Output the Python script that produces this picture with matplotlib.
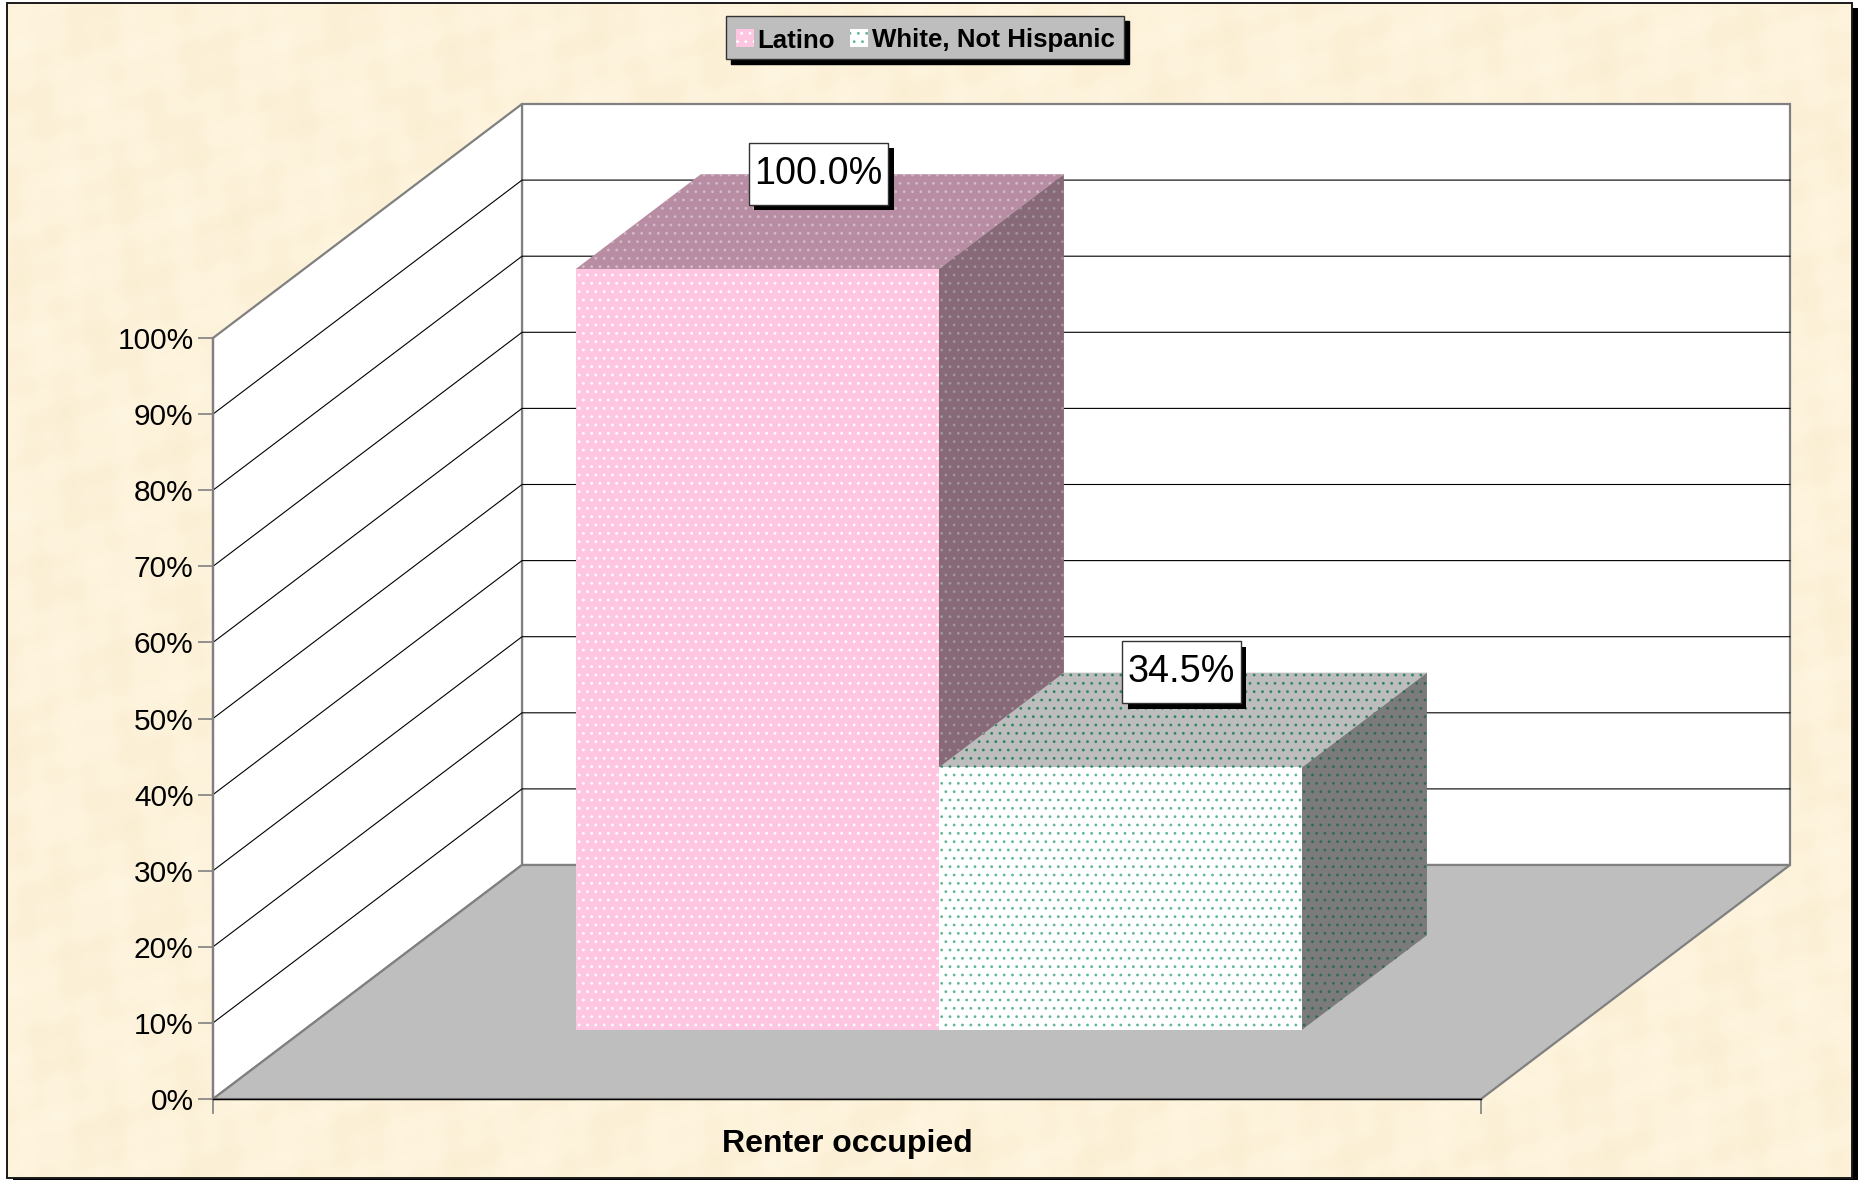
import numpy as np
import matplotlib
matplotlib.use("Agg")
import matplotlib.pyplot as plt
from matplotlib.patches import Polygon, Rectangle, Patch
from matplotlib.path import Path
from matplotlib.ticker import FuncFormatter
from matplotlib import patheffects as pe

plt.rcParams['font.family'] = ['Liberation Sans', 'DejaVu Sans']
plt.rcParams['hatch.linewidth'] = 0.8

# ---- data ----
categories = ["Renter occupied"]
series_names = ["Latino", "White, Not Hispanic"]
series_values = [100.0, 34.5]
value_labels = ["100.0%", "34.5%"]
y_ticks = list(range(0, 101, 10))

# ---- styles ----
face_colors = ["#FFC6E2", "#FFFFFF"]
top_colors = ["#B88CA3", "#BDBDBD"]
side_colors = ["#876977", "#7B7B7B"]
hatch_colors = [("#FFFFFF", "#D0BCC6", "#A3959C"), ("#62B795", "#2F8562", "#2F6B52")]
W, H = 1866, 1180
AX_L, AX_R, AX_T, AX_B = 213, 1481, 338, 1099
DEPTH_PX, DEPTH_PY = 309, 234

fig = plt.figure(figsize=(W / 100, H / 100), dpi=100, facecolor="white")

# background, frame and parchment texture (smooth deterministic blotches)
bg = fig.add_axes([0, 0, 1, 1], zorder=0)
bg.set_xlim(0, W)
bg.set_ylim(H, 0)
bg.axis("off")
bg.add_patch(Rectangle((13, 8), 1845, 1180, fc="black", ec="none"))
yy, xx = np.mgrid[0:H // 4, 0:W // 4]
tile = (np.sin(xx / 5.1 + 1.2 * np.sin(yy / 9.0)) * np.sin(yy / 6.3 + 0.9 * np.sin(xx / 11.0))
        + 0.7 * np.sin(xx / 2.3 + yy / 3.1) * np.cos(yy / 2.7 - xx / 4.3))
tex = np.zeros(tile.shape + (3,))
for i, (c, a) in enumerate(zip((253.0, 242.0, 218.0), (1.5, 2.4, 4.5))):
    tex[..., i] = (c + a * tile) / 255
bg.imshow(tex.clip(0, 1), extent=(7, 1852, 1178, 3), interpolation="bicubic", aspect="auto", zorder=1)
bg.set_xlim(0, W)
bg.set_ylim(H, 0)
bg.add_patch(Rectangle((7, 3), 1845, 1175, fc="none", ec="#1a1a1a", lw=1.4, zorder=2))

# main axes: x = category span 0..1, y = percent
ax = fig.add_axes([AX_L / W, 1 - AX_B / H, (AX_R - AX_L) / W, (AX_B - AX_T) / H], zorder=1)
ax.patch.set_visible(False)
ax.set_xlim(0, 1)
ax.set_ylim(0, 100)
dx_u = DEPTH_PX / (AX_R - AX_L)
dy_u = DEPTH_PY / (AX_B - AX_T) * 100


def proj(x, y, d=0.0):
    """Oblique projection: d is depth from the front (0) to the back wall (1)."""
    return (x + d * dx_u, y + d * dy_u)


def poly(pts, **kw):
    p = Polygon(pts, closed=True, clip_on=False, **kw)
    ax.add_patch(p)
    return p


def label_box(x0, y0, width, height, mutation_size):
    """Rectangular label frame with more vertical than horizontal padding."""
    px, py = 5.5, 13
    x1, y1 = x0 - px, y0 - py
    x2, y2 = x0 + width + px, y0 + height + py
    return Path([(x1, y1), (x2, y1), (x2, y2), (x1, y2), (x1, y1)], closed=True)


GRAY = "#808080"
# walls and floor
poly([proj(0, 0, 1), proj(1, 0, 1), proj(1, 100, 1), proj(0, 100, 1)], fc="white", ec=GRAY, lw=1.6, zorder=1)
poly([proj(0, 0), proj(0, 0, 1), proj(0, 100, 1), proj(0, 100)], fc="white", ec=GRAY, lw=1.6, zorder=1)
poly([proj(0, 0), proj(1, 0), proj(1, 0, 1), proj(0, 0, 1)], fc="#BEBEBE", ec=GRAY, lw=1.6, zorder=1.2)

# gridlines
for v in y_ticks[1:-1]:
    xs, ys = zip(proj(0, v), proj(0, v, 1), proj(1, v, 1))
    ax.plot(xs, ys, color="black", lw=0.8, clip_on=False, zorder=1.1)

# bars
n_bars = len(series_values)
bar_w = 0.2863
x0 = 0.5 - n_bars * bar_w / 2 + 0.0005
d_front, d_back = 0.295, 0.70
hatches = ["..", ".."]
for i, v in enumerate(series_values):
    xl, xr = x0 + i * bar_w, x0 + (i + 1) * bar_w
    hf, ht, hs = hatch_colors[i]
    h = hatches[i]
    poly([proj(xl, v, d_front), proj(xr, v, d_front), proj(xr, v, d_back), proj(xl, v, d_back)],
         fc=top_colors[i], ec=ht, lw=0, hatch=h, zorder=3 + i)
    poly([proj(xr, 0, d_front), proj(xr, 0, d_back), proj(xr, v, d_back), proj(xr, v, d_front)],
         fc=side_colors[i], ec=hs, lw=0, hatch=h, zorder=3 + i)
    poly([proj(xl, 0, d_front), proj(xr, 0, d_front), proj(xr, v, d_front), proj(xl, v, d_front)],
         fc=face_colors[i], ec=hf, lw=0, hatch=h, zorder=3 + i)

# value labels
shadow_fx = [pe.SimplePatchShadow(offset=(4, -4), shadow_rgbFace="black", alpha=1.0), pe.Normal()]
for i, (v, lab) in enumerate(zip(series_values, value_labels)):
    xc = x0 + (i + 0.5) * bar_w
    lx, _ = proj(xc, v, (d_front + d_back) / 2)
    _, ly = proj(xc, v, d_back)
    t = ax.text(lx - 0.0012, ly + 0.05, lab, ha="center", va="center", fontsize=27.2, color="black", zorder=8,
                clip_on=False,
                bbox=dict(boxstyle=label_box, fc="white", ec="#333333", lw=1.0))
    t.get_bbox_patch().set_path_effects(shadow_fx)

# axes furniture
for s in ("top", "right"):
    ax.spines[s].set_visible(False)
ax.spines["left"].set_color(GRAY)
ax.spines["left"].set_linewidth(1.6)
ax.spines["bottom"].set_color("black")
ax.spines["bottom"].set_linewidth(1.0)
ax.set_yticks(y_ticks)
ax.yaxis.set_major_formatter(FuncFormatter(lambda v, _: f"{v:.0f}%"))
ax.tick_params(axis="y", length=11, width=1.2, color=GRAY, labelsize=21.5, pad=3, labelcolor="black")
ax.set_xticks([0.5], labels=categories, fontweight="bold", fontsize=23)
ax.tick_params(axis="x", which="major", length=0, pad=21.7)
ax.set_xticks([0, 1], minor=True)
ax.tick_params(axis="x", which="minor", length=11, width=1.2, color=GRAY)

# legend
handles = [Patch(fc=face_colors[i], ec=hatch_colors[i][0], lw=0, hatch="..", label=series_names[i])
           for i in range(n_bars)]
leg = fig.legend(handles=handles, loc="center", bbox_to_anchor=(925 / W, 1 - 37.5 / H), ncol=2,
                 prop=dict(size=18.6, weight="bold"), fancybox=False, framealpha=1, facecolor="#BEBEBE",
                 edgecolor="#333333", shadow=dict(ox=3.6, oy=-3.6, color="black", alpha=1),
                 handlelength=0.72, handleheight=0.72, handletextpad=0.12, columnspacing=0.58,
                 borderpad=0.38, borderaxespad=0)
leg.get_frame().set_linewidth(1.0)
leg.set_zorder(20)
for txt, hnd in zip(leg.get_texts(), leg.legend_handles):
    txt.set_position((0, -3))
    hnd.set_y(hnd.get_y() - 2)

fig.savefig("out.png", dpi=100)
